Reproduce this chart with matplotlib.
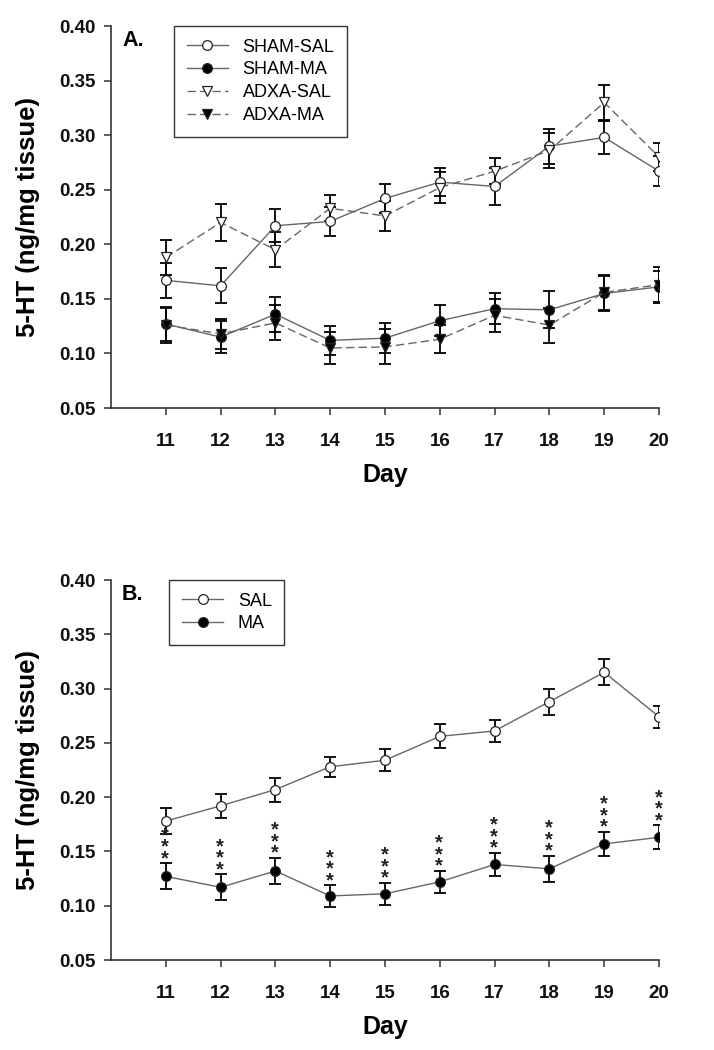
import matplotlib
matplotlib.use('Agg')
import matplotlib.pyplot as plt
import numpy as np

matplotlib.rcParams.update({
    'font.family': ['Liberation Sans', 'DejaVu Sans'],
    'font.size': 12,
    'axes.linewidth': 1.2,
    'axes.edgecolor': '#333333',
})

days = np.arange(11, 21)

# Panel A
sham_sal = [0.167, 0.162, 0.217, 0.221, 0.242, 0.257, 0.253, 0.290, 0.298, 0.267]
sham_sal_err = [0.016, 0.016, 0.015, 0.013, 0.013, 0.013, 0.017, 0.016, 0.015, 0.014]
sham_ma = [0.127, 0.115, 0.136, 0.112, 0.114, 0.130, 0.141, 0.140, 0.155, 0.161]
sham_ma_err = [0.016, 0.015, 0.016, 0.013, 0.014, 0.014, 0.014, 0.017, 0.016, 0.015]
adxa_sal = [0.188, 0.220, 0.195, 0.233, 0.226, 0.252, 0.267, 0.286, 0.330, 0.280]
adxa_sal_err = [0.016, 0.017, 0.016, 0.012, 0.014, 0.014, 0.012, 0.016, 0.016, 0.013]
adxa_ma = [0.126, 0.118, 0.128, 0.105, 0.106, 0.113, 0.135, 0.126, 0.156, 0.163]
adxa_ma_err = [0.016, 0.014, 0.016, 0.015, 0.016, 0.013, 0.015, 0.016, 0.016, 0.016]

# Panel B
sal = [0.178, 0.192, 0.207, 0.228, 0.234, 0.256, 0.261, 0.288, 0.315, 0.274]
sal_err = [0.012, 0.011, 0.011, 0.009, 0.010, 0.011, 0.010, 0.012, 0.012, 0.010]
ma = [0.127, 0.117, 0.132, 0.109, 0.111, 0.122, 0.138, 0.134, 0.157, 0.163]
ma_err = [0.012, 0.012, 0.012, 0.010, 0.010, 0.010, 0.011, 0.012, 0.011, 0.011]
ma_sig = ['***'] * 10

yticks = [0.05, 0.10, 0.15, 0.20, 0.25, 0.30, 0.35, 0.40]

fig = plt.figure(figsize=(7.14, 10.5), dpi=100)
axA = fig.add_axes([0.1555, 0.6114, 0.7675, 0.3638])
axB = fig.add_axes([0.1555, 0.0857, 0.7675, 0.3619])


def series(ax, y, err, marker, fill, dashed, label):
    ax.errorbar(days, y, yerr=err, fmt='none', ecolor='black', elinewidth=1.3,
                capsize=4.5, capthick=1.3, zorder=2)
    line, = ax.plot(days, y, color='#666666', linewidth=1.0,
                    marker=marker, markersize=7, markerfacecolor=fill,
                    markeredgecolor='#222222', markeredgewidth=0.9,
                    label=label, zorder=3)
    if dashed:
        line.set_dashes((6, 3))


def style(ax, tag):
    ax.set_xlim(10, 20)
    ax.set_ylim(0.05, 0.40)
    ax.set_xticks(days)
    ax.set_yticks(yticks)
    ax.set_yticklabels([f'{t:.2f}' for t in yticks])
    ax.spines['top'].set_visible(False)
    ax.spines['right'].set_visible(False)
    ax.tick_params(direction='out', length=5, width=1.1, colors='#333333',
                   labelcolor='#111111', labelsize=13.5)
    for lab in ax.get_xticklabels() + ax.get_yticklabels():
        lab.set_fontweight('bold')
    ax.tick_params(axis='x', pad=13)
    ax.tick_params(axis='y', pad=6)
    ax.set_xlabel('Day', fontsize=18, fontweight='bold', labelpad=9)
    ax.set_ylabel('5-HT (ng/mg tissue)', fontsize=18.5, fontweight='bold',
                  labelpad=14)
    ax.text(0.02, 0.99, tag, transform=ax.transAxes, fontsize=15.5,
            fontweight='bold', va='top', ha='left')


def legend(ax, x):
    leg = ax.legend(loc='upper left', bbox_to_anchor=(x, 1.0), fontsize=13,
                    frameon=True, fancybox=False, edgecolor='black',
                    handlelength=2.3, borderpad=0.7, labelspacing=0.32,
                    borderaxespad=0, handletextpad=0.8)
    leg.get_frame().set_linewidth(1.0)


# Panel A
for y, err, m, f, dsh, lab in [
        (sham_sal, sham_sal_err, 'o', 'white', False, 'SHAM-SAL'),
        (sham_ma, sham_ma_err, 'o', 'black', False, 'SHAM-MA'),
        (adxa_sal, adxa_sal_err, 'v', 'white', True, 'ADXA-SAL'),
        (adxa_ma, adxa_ma_err, 'v', 'black', True, 'ADXA-MA')]:
    series(axA, y, err, m, f, dsh, lab)
style(axA, 'A.')
legend(axA, 0.115)

# Panel B
series(axB, sal, sal_err, 'o', 'white', False, 'SAL')
series(axB, ma, ma_err, 'o', 'black', False, 'MA')
# significance stars stacked vertically above the MA error bars
for d, m, e, s in zip(days, ma, ma_err, ma_sig):
    axB.annotate('\n'.join(s), xy=(d, m + e), xytext=(-0.5, -3.5),
                 textcoords='offset points', ha='center', va='bottom',
                 fontsize=14.5, fontweight='bold', color='#222222',
                 linespacing=0.5)
style(axB, 'B.')
legend(axB, 0.106)

fig.savefig('out.png', dpi=100)
